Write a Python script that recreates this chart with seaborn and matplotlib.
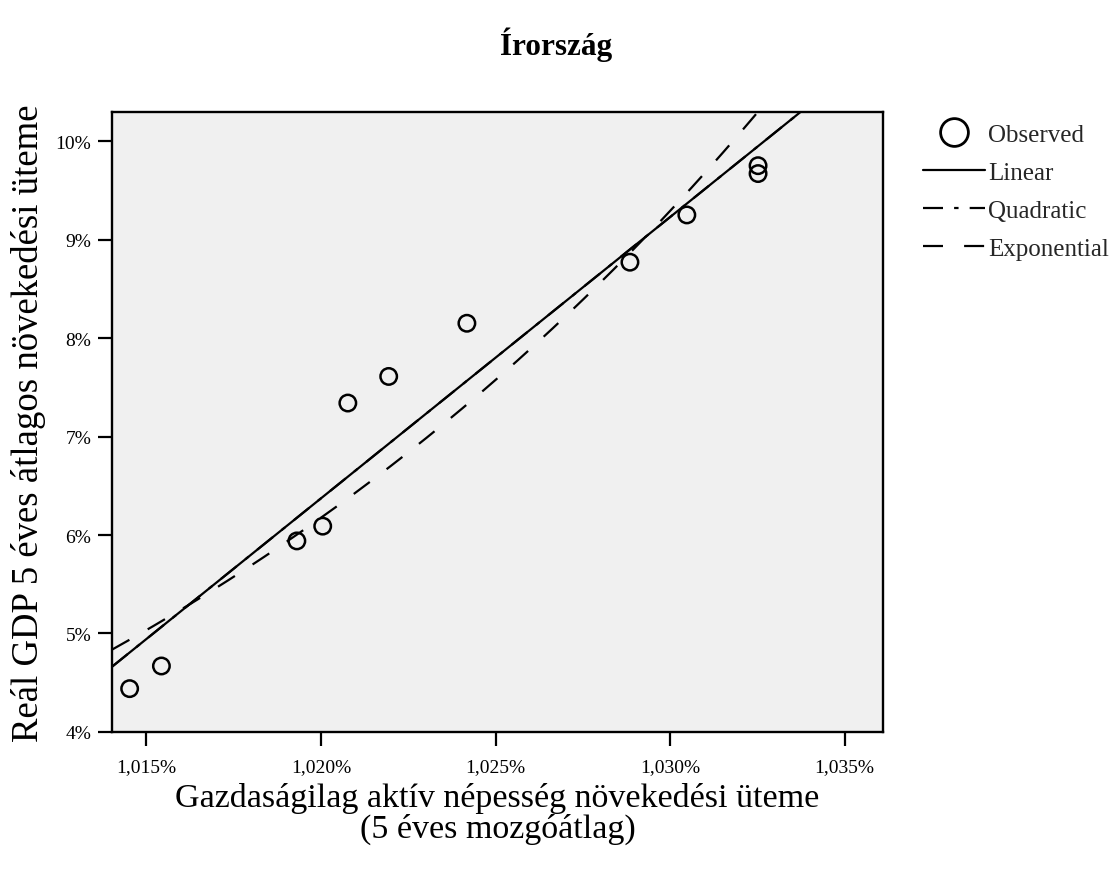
import numpy as np
import pandas as pd
import matplotlib
matplotlib.use("Agg")
import matplotlib.pyplot as plt
from matplotlib.lines import Line2D
from matplotlib.ticker import FuncFormatter
import seaborn as sns

labor_growth = [1.01452, 1.01543, 1.01931, 1.02005, 1.02077, 1.02194,
                1.02418, 1.02885, 1.03048, 1.03252, 1.03252]
gdp_growth = [4.44, 4.67, 5.94, 6.09, 7.34, 7.61,
              8.15, 8.77, 9.25, 9.67, 9.75]

x_ticks = [1.015, 1.020, 1.025, 1.030, 1.035]
y_ticks = [4, 5, 6, 7, 8, 9, 10]

title = "Írország"
xlabel = "Gazdaságilag aktív népesség növekedési üteme\n(5 éves mozgóátlag)"
ylabel = "Reál GDP 5 éves átlagos növekedési üteme"
legend_labels = ["Observed", "Linear", "Quadratic", "Exponential"]

sns.set_theme(style="white")
plt.rcParams['font.family'] = ['Liberation Serif', 'DejaVu Serif']

df = pd.DataFrame({"x": labor_growth, "y": gdp_growth})
xa = np.array(labor_growth)
ya = np.array(gdp_growth)

xlim = (1.014014, 1.03609)
ylim = (4.0, 10.295)

xs = np.linspace(xlim[0], xlim[1], 300)
lin = np.polyfit(xa, ya, 1)
# the quadratic term is dropped (collinear with x), so the quadratic model
# coincides with the linear one, as in the reference
quad = np.polyfit(xa, ya, 1)
expc = np.polyfit(xa, np.log(ya), 1)
fits = pd.DataFrame({
    "x": xs,
    "linear": np.polyval(lin, xs),
    "quadratic": np.polyval(quad, xs),
    "exponential": np.exp(np.polyval(expc, xs)),
})

LW = 1.6
QUAD_LS = (0, (9, 5, 2, 5))
EXP_LS = (0, (9, 9.5))

fig = plt.figure(figsize=(11.12, 8.70), dpi=100)
ax = fig.add_axes([0.1007, 0.1575, 0.6931, 0.7126])
ax.set_facecolor("#f0f0f0")

sns.lineplot(data=fits, x="x", y="quadratic", ax=ax, color="black", lw=LW,
             linestyle=QUAD_LS, zorder=2)
sns.lineplot(data=fits, x="x", y="linear", ax=ax, color="black", lw=LW, zorder=3)
sns.lineplot(data=fits, x="x", y="exponential", ax=ax, color="black", lw=LW,
             linestyle=EXP_LS, zorder=3)
sns.scatterplot(data=df, x="x", y="y", ax=ax, s=140, marker="o",
                facecolors="none", edgecolor="black", linewidth=1.8, zorder=5)

ax.set_xlim(*xlim)
ax.set_ylim(*ylim)
ax.set_xticks(x_ticks)
ax.set_yticks(y_ticks)
ax.xaxis.set_major_formatter(FuncFormatter(lambda v, p: f"{v:.3f}%".replace(".", ",")))
ax.yaxis.set_major_formatter(FuncFormatter(lambda v, p: f"{v:.0f}%"))
ax.tick_params(axis="both", which="major", direction="out", length=10, width=1.6,
               labelsize=14, color="black", labelcolor="black", bottom=True, left=True)
ax.tick_params(axis="x", pad=9)
ax.tick_params(axis="y", pad=5)
for sp in ax.spines.values():
    sp.set_visible(True)
    sp.set_color("black")
    sp.set_linewidth(1.7)

ax.set_xlabel("")
ax.set_ylabel("")
fig.text(0.4475, 0.064, xlabel, ha="center", va="center", fontsize=24.5,
         linespacing=1.0, color="black")
fig.text(0.026, 0.514, ylabel, ha="center", va="center", rotation=90,
         fontsize=26.5, color="black")
fig.text(0.5, 0.948, title, ha="center", va="center", fontsize=22.5,
         fontweight="bold", color="black")

handles = [
    Line2D([], [], marker="o", markersize=20, markerfacecolor="none",
           markeredgecolor="black", markeredgewidth=2.0, linestyle="none"),
    Line2D([], [], color="black", lw=LW),
    Line2D([], [], color="black", lw=LW, linestyle=QUAD_LS),
    Line2D([], [], color="black", lw=LW, linestyle=EXP_LS),
]
fig.legend(handles, legend_labels, loc="upper left", bbox_to_anchor=(0.830, 0.857),
           frameon=False, fontsize=18, handlelength=2.5, handletextpad=0.1,
           labelspacing=0.62, borderaxespad=0, borderpad=0)

fig.savefig("out.png", dpi=100)
